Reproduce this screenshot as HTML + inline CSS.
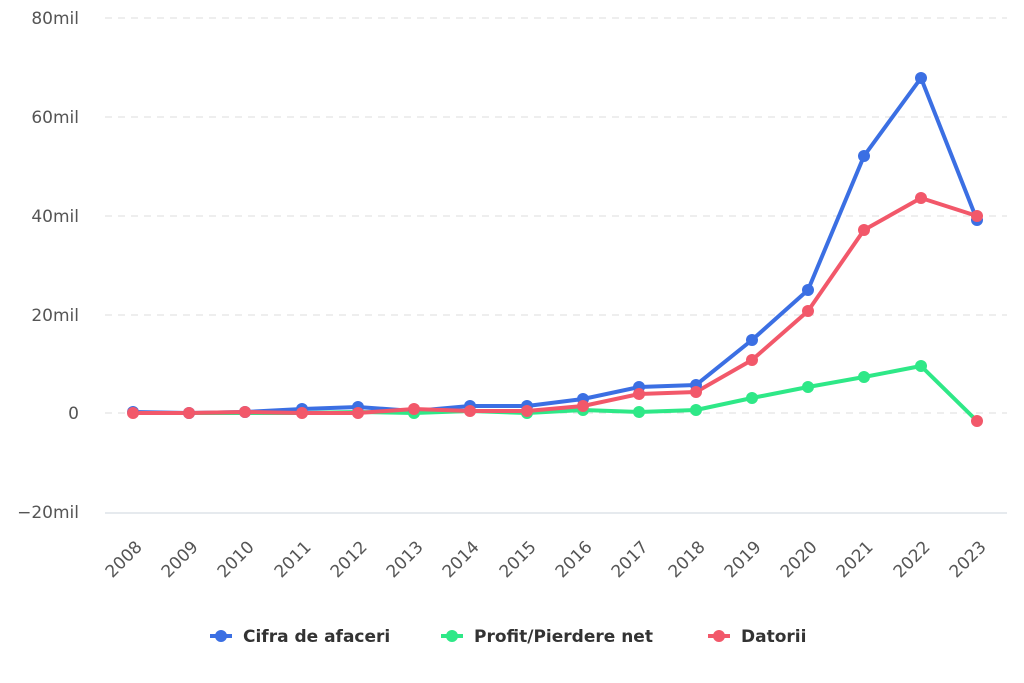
<!DOCTYPE html>
<html><head><meta charset="utf-8"><style>
html,body{margin:0;padding:0;background:#fff;}
svg{display:block;font-family:"DejaVu Sans","Liberation Sans",sans-serif;}
</style></head><body>
<svg width="1024" height="683" viewBox="0 0 1024 683">
<g stroke="#dcdcdc" stroke-width="1" stroke-dasharray="7,6">
<line x1="105" x2="1007" y1="18" y2="18"/>
<line x1="105" x2="1007" y1="117" y2="117"/>
<line x1="105" x2="1007" y1="216" y2="216"/>
<line x1="105" x2="1007" y1="315" y2="315"/>
<line x1="105" x2="1007" y1="413" y2="413"/>
</g>
<line x1="105" x2="1007" y1="513" y2="513" stroke="#ccd6dd" stroke-width="1"/>
<g fill="#555" font-size="17" text-anchor="end">
<text x="79" y="24">80mil</text>
<text x="79" y="123">60mil</text>
<text x="79" y="222">40mil</text>
<text x="79" y="321">20mil</text>
<text x="79" y="419">0</text>
<text x="79" y="518">−20mil</text>
</g>
<g fill="#555" font-size="17" text-anchor="end">
<text transform="translate(143,548) rotate(-45)">2008</text>
<text transform="translate(199,548) rotate(-45)">2009</text>
<text transform="translate(255,548) rotate(-45)">2010</text>
<text transform="translate(312,548) rotate(-45)">2011</text>
<text transform="translate(368,548) rotate(-45)">2012</text>
<text transform="translate(424,548) rotate(-45)">2013</text>
<text transform="translate(480,548) rotate(-45)">2014</text>
<text transform="translate(537,548) rotate(-45)">2015</text>
<text transform="translate(593,548) rotate(-45)">2016</text>
<text transform="translate(649,548) rotate(-45)">2017</text>
<text transform="translate(706,548) rotate(-45)">2018</text>
<text transform="translate(762,548) rotate(-45)">2019</text>
<text transform="translate(818,548) rotate(-45)">2020</text>
<text transform="translate(874,548) rotate(-45)">2021</text>
<text transform="translate(931,548) rotate(-45)">2022</text>
<text transform="translate(987,548) rotate(-45)">2023</text>
</g>
<g fill="none" stroke-width="4" stroke-linejoin="round">
<polyline stroke="#3b6fe3" points="133,412 189,413 245,412 302,409 358,407 414,411 470,406 527,406 583,399 639,387 696,385 752,340 808,290 864,156 921,78 977,220"/>
<polyline stroke="#2ee887" points="133,413 189,413 245,413 302,413 358,412 414,413 470,411 527,413 583,410 639,412 696,410 752,398 808,387 864,377 921,366 977,421"/>
<polyline stroke="#f2586a" points="133,413 189,413 245,412 302,413 358,413 414,409 470,411 527,411 583,406 639,394 696,392 752,360 808,311 864,230 921,198 977,216"/>
</g>
<g fill="#3b6fe3">
<circle cx="133" cy="412" r="6"/><circle cx="189" cy="413" r="6"/><circle cx="245" cy="412" r="6"/><circle cx="302" cy="409" r="6"/><circle cx="358" cy="407" r="6"/><circle cx="414" cy="411" r="6"/><circle cx="470" cy="406" r="6"/><circle cx="527" cy="406" r="6"/><circle cx="583" cy="399" r="6"/><circle cx="639" cy="387" r="6"/><circle cx="696" cy="385" r="6"/><circle cx="752" cy="340" r="6"/><circle cx="808" cy="290" r="6"/><circle cx="864" cy="156" r="6"/><circle cx="921" cy="78" r="6"/><circle cx="977" cy="220" r="6"/>
</g>
<g fill="#2ee887">
<circle cx="414" cy="413" r="6"/><circle cx="527" cy="413" r="6"/><circle cx="583" cy="410" r="6"/><circle cx="639" cy="412" r="6"/><circle cx="696" cy="410" r="6"/><circle cx="752" cy="398" r="6"/><circle cx="808" cy="387" r="6"/><circle cx="864" cy="377" r="6"/><circle cx="921" cy="366" r="6"/>
</g>
<g fill="#f2586a">
<circle cx="133" cy="413" r="6"/><circle cx="189" cy="413" r="6"/><circle cx="245" cy="412" r="6"/><circle cx="302" cy="413" r="6"/><circle cx="358" cy="413" r="6"/><circle cx="414" cy="409" r="6"/><circle cx="470" cy="411" r="6"/><circle cx="527" cy="411" r="6"/><circle cx="583" cy="406" r="6"/><circle cx="639" cy="394" r="6"/><circle cx="696" cy="392" r="6"/><circle cx="752" cy="360" r="6"/><circle cx="808" cy="311" r="6"/><circle cx="864" cy="230" r="6"/><circle cx="921" cy="198" r="6"/><circle cx="977" cy="216" r="6"/><circle cx="977" cy="421" r="6"/>
</g>
<g font-size="17" font-weight="bold" fill="#333">
<line x1="210" x2="232" y1="636" y2="636" stroke="#3b6fe3" stroke-width="4"/><circle cx="221" cy="636" r="6" fill="#3b6fe3"/>
<text x="243" y="642">Cifra de afaceri</text>
<line x1="441" x2="463" y1="636" y2="636" stroke="#2ee887" stroke-width="4"/><circle cx="452" cy="636" r="6" fill="#2ee887"/>
<text x="474" y="642">Profit/Pierdere net</text>
<line x1="708" x2="730" y1="636" y2="636" stroke="#f2586a" stroke-width="4"/><circle cx="719" cy="636" r="6" fill="#f2586a"/>
<text x="741" y="642">Datorii</text>
</g>
</svg>
</body></html>
